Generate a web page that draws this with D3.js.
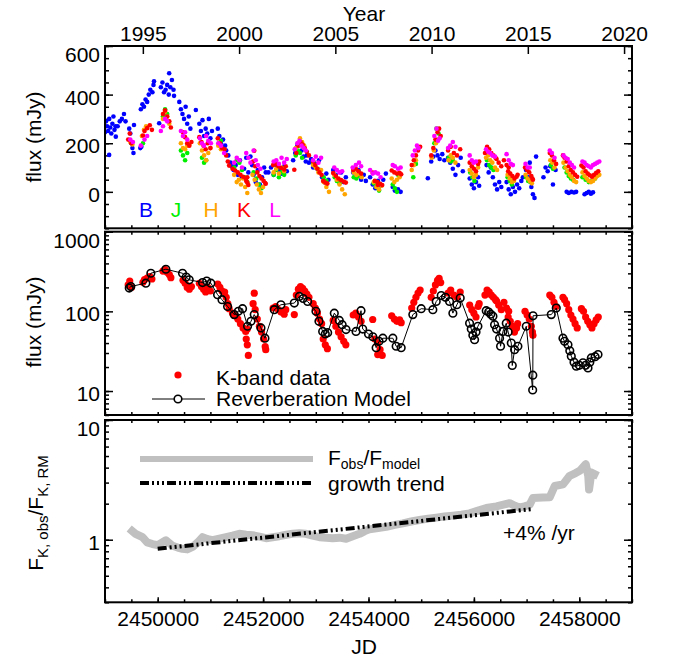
<!DOCTYPE html>
<html>
<head>
<meta charset="utf-8">
<script src="https://cdn.jsdelivr.net/npm/d3@7"></script>
<style>
  body { margin: 0; background: #fff; }
  text { font-family: "Liberation Sans", Arial, sans-serif; fill: #000; }
</style>
</head>
<body>
<svg id="chart" width="673" height="661"></svg>
<script>
// days are counted from JD 2450000
const JD0 = 2450000;

// top panel: photometry per band, [day, flux mJy]
const bandB = [
  [-1020,260],[-1000,245],[-980,290],[-960,270],[-940,250],[-921,152],[-920,300],[-900,265],[-880,240],[-860,280],
  [-840,310],[-820,255],[-800,270],[-795,227],[-760,270],[-720,290],[-680,300],[-640,320],[-610,290],
  [-540,260],[-520,240],[-500,200],[-480,180],[-460,160],[-450,275],[-330,180],[-310,186],
  [-320,340],[-290,360],[-260,350],[-230,380],[-200,370],[-170,400],[-140,420],[-100,410],[-80,440],[-70,455],
  [28,282],[60,430],[90,450],[120,410],[150,420],[180,440],[210,400],[218,488],[240,430],[270,460],[300,420],[310,395],
  [410,370],[440,340],[470,320],[500,300],[530,350],[560,280],[590,310],[620,260],[724,337],
  [790,280],[820,250],[850,295],[880,230],[910,260],[940,240],[970,300],[1000,220],[1030,250],
  [1140,260],[1170,230],[1200,200],[1240,215],[1280,190],[1300,170],[1340,150],[1380,120],[1410,105],
  [1440,90],[1480,110],[1520,70],[1560,130],[1600,60],[1640,95],[1680,140],[1720,80],[1760,145],[1790,110],
  [1820,70],[1860,40],[1900,90],[1940,30],[1980,60],[2020,100],[2050,80],
  [2100,80],[2150,100],[2200,70],[2250,110],[2300,90],[2350,75],[2400,105],[2450,85],
  [2570,130],[2610,160],[2650,190],[2690,200],[2730,170],[2770,145],[2810,125],
  [2830,150],[2870,120],[2910,135],[2950,100],[2990,115],[3030,95],[3060,130],
  [3080,90],[3120,60],[3160,40],[3200,75],[3240,50],
  [3330,90],[3380,70],[3430,50],[3480,80],[3530,40],[3570,60],
  [3710,80],[3760,60],[3810,90],[3860,50],[3910,70],[3950,45],
  [4030,60],[4080,30],[4130,15],[4180,45],[4230,25],[4280,50],[4330,75],
  [4460,20],[4500,5],[4560,10],[4610,0],[5126,56],
  [5190,125],[5230,145],[5270,170],[5310,150],[5350,135],[5400,155],[5440,130],
  [5510,140],[5550,120],[5600,95],[5650,70],[5700,110],[5750,140],[5790,85],
  [5920,55],[5960,30],[6000,15],[6040,40],[6080,60],[6100,25],
  [6240,110],[6280,80],[6320,100],[6360,60],[6400,30],[6440,10],[6480,40],[6520,20],
  [6620,40],[6660,10],[6700,-10],[6740,20],[6780,0],[6820,30],[6860,15],[6900,45],[6930,60],
  [6990,90],[7030,60],[7060,120],[7090,20],[7120,-10],[7150,-25],[7180,145],
  [7320,60],[7360,100],[7400,85],[7450,105],[7500,30],[7550,90],
  [7760,0],[7800,-5],[7850,0],[7900,-3],[7940,0],
  [8100,-10],[8140,-5],[8180,0],[8220,-8],[8260,-2]
];
const bandJ = [
  [-500,200],[-280,200],[100,310],[140,340],[180,320],[440,170],[480,150],[520,130],[560,160],
  [840,140],[880,120],[920,130],[1160,200],[1200,210],
  [1450,100],[1500,130],[1550,120],[1600,90],[1650,60],[1700,40],[1820,80],[1870,55],[1920,30],[1970,15],
  [2200,70],[2250,90],[2300,60],[2350,80],[2400,70],[2620,150],[2660,170],[2700,160],[2740,140],
  [2950,120],[3000,100],[3050,90],[3150,60],[3200,45],[3360,60],[3400,45],[3450,35],
  [3720,60],[3770,55],[3820,65],[4100,35],[4150,20],[4200,5],[4460,30],[4500,15],[4540,0],[4560,70],
  [4850,60],[4900,115],[4950,180],[5250,200],[5290,260],[5330,240],[5520,140],[5560,125],[5600,130],
  [5930,80],[5970,60],[6010,45],[6250,130],[6290,110],[6330,100],[6370,90],[6640,60],[6680,45],[6720,30],
  [6990,60],[7030,45],[7070,40],[7460,110],[7500,95],[7720,100],[7760,80],[7800,65],[7840,55],[7880,50],
  [8060,60],[8120,50],[8180,40],[8240,45],[8300,55]
];
const bandH = [
  [-520,205],[-480,195],[-300,230],[-260,255],[-220,270],[100,300],[140,330],[180,310],[220,280],
  [440,200],[480,180],[520,175],[560,190],[600,195],[800,200],[840,170],[880,150],[920,130],[960,160],[1000,180],
  [1150,190],[1200,175],[1450,70],[1500,40],[1540,50],[1580,30],[1620,55],[1660,20],[1700,-5],
  [1800,70],[1840,50],[1880,30],[1920,10],[1960,-5],[2000,20],
  [2200,80],[2250,95],[2300,75],[2350,100],[2400,85],[2620,180],[2660,200],[2700,220],[2740,205],[2780,190],
  [2950,110],[3000,100],[3050,80],[3100,90],[3150,40],[3200,20],[3250,0],
  [3350,70],[3400,50],[3450,30],[3500,10],[3550,-10],[3720,80],[3770,70],[3820,75],[3870,60],
  [4100,40],[4150,20],[4200,10],[4250,25],[4440,55],[4490,40],[4540,50],[4590,60],
  [4820,90],[4860,110],[4900,130],[5200,140],[5240,170],[5280,200],[5320,215],
  [5520,130],[5560,150],[5600,140],[5650,120],[5920,90],[5960,75],[6000,60],[6040,70],[6080,100],
  [6230,140],[6270,150],[6310,130],[6350,120],[6400,100],[6440,90],[6640,70],[6680,55],[6720,40],[6760,45],
  [6980,70],[7020,55],[7060,45],[7100,35],[7450,130],[7490,120],[7530,100],
  [7700,120],[7740,100],[7780,85],[7820,70],[7860,60],[7900,45],[7940,40],
  [8060,80],[8100,65],[8140,55],[8180,45],[8220,40],[8260,45],[8300,55],[8340,65],[8380,70]
];
const bandK = [
  [-560,215],[-530,240],[-500,200],[-280,232],[-250,250],[-200,262],[-150,274],[-110,255],
  [100,320],[140,335],[180,310],[220,290],[250,265],[480,245],[520,225],[560,200],[600,190],[640,205],
  [790,225],[830,205],[870,190],[910,175],[950,200],[1000,180],[1140,220],[1180,200],[1220,180],
  [1270,175],[1300,150],[1330,125],[1355,108],[1420,95],[1470,88],[1520,80],[1570,70],[1620,62],[1670,56],[1700,60],
  [1680,45],[1700,38],[1720,28],[1832,169],[1810,125],[1850,105],[1890,80],[1930,65],[1970,55],[2010,45],[2040,36],[2050,33],
  [2190,110],[2240,115],[2290,105],[2340,98],[2400,92],[2430,105],[2592,91],
  [2630,160],[2670,190],[2710,205],[2750,195],[2790,180],[2830,165],[2870,150],
  [2950,125],[2990,110],[3030,95],[3070,80],[3110,70],[3140,45],[3180,38],[3220,34],
  [3330,77],[3380,65],[3430,55],[3480,48],[3530,42],[3570,38],[3710,90],[3760,95],[3810,85],[3860,75],
  [4080,79],[4175,28.7],[4120,45],[4170,40],[4220,33],[4260,28],[4440,88],[4490,80],[4540,75],[4590,78],[4620,72],
  [4820,110],[4860,130],[4900,150],[4940,170],[4980,185],[5190,150],[5230,180],[5270,215],[5310,245],[5340,260],[5370,230],
  [5510,170],[5560,185],[5620,160],[5680,150],[5740,175],[5920,120],[5960,105],[6000,95],[6040,85],[6080,115],[6100,125],
  [6210,160],[6250,185],[6290,175],[6330,160],[6370,150],[6410,140],[6430,135],[6470,120],[6520,105],[6570,130],[6620,110],[6660,100],
  [6650,85],[6690,75],[6730,65],[6770,55],[6810,62],[6830,70],[6970,100],[7010,90],[7050,80],[7090,65],[7110,55],[7120,50],
  [7440,160],[7480,150],[7520,130],[7560,115],
  [7690,150],[7720,140],[7760,125],[7800,105],[7840,90],[7880,80],[7920,70],[7960,62],
  [8040,108],[8080,100],[8120,85],[8160,75],[8200,68],[8240,62],[8280,70],[8320,78],[8360,85]
];
const bandL = [
  [-520,215],[-470,205],[-320,190],[-250,215],[-200,230],[60,250],[100,270],[140,300],[180,290],
  [440,250],[480,230],[520,245],[560,215],[800,220],[840,200],[880,190],[920,230],[960,210],[1010,200],
  [1150,200],[1200,190],[1260,160],[1450,120],[1500,140],[1550,130],[1600,100],[1680,160],[1720,140],[1760,120],
  [1820,170],[1860,130],[1900,110],[1950,95],[2200,125],[2250,130],[2300,115],[2350,140],[2400,120],[2450,135],
  [2600,175],[2650,200],[2690,210],[2730,190],[2770,180],[2810,170],[2950,130],[3000,145],[3050,120],[3100,140],
  [3350,100],[3400,90],[3450,80],[3500,85],[3700,100],[3760,110],[3820,120],[3860,105],
  [4030,90],[4080,75],[4130,80],[4180,75],[4230,60],[4460,110],[4500,105],[4560,95],[4610,100],
  [4840,150],[4880,170],[4920,190],[4950,180],[5250,230],[5290,260],[5320,210],[5350,220],
  [5510,180],[5550,190],[5600,205],[5650,185],[5920,150],[5960,130],[6000,120],[6040,125],
  [6230,175],[6270,165],[6310,160],[6350,150],[6400,145],[6620,155],[6660,130],[6700,115],[6740,110],
  [6980,115],[7020,100],[7060,100],[7440,170],[7480,160],[7530,140],
  [7700,150],[7740,140],[7780,135],[7820,120],[7860,110],[7900,100],
  [8060,125],[8100,120],[8140,110],[8180,105],[8220,100],[8260,110],[8300,115],[8340,120],[8380,125]
];

// middle panel: reverberation model for K, [day, flux mJy]
const modelK = [
  [-540,196],[-510,205],[-225,226],[-130,301],[155,338],[471,301],[540,270],[598,249],[851,230],[930,240],[1009,226],
  [1136,162],[1220,140],[1326,115],[1452,91],[1530,100],[1610,108],[1705,65],[1770,75],[1832,91],[1959,62],[2035,46],
  [2212,105],[2338,121],[2592,127],[2687,154],[2760,145],[2845,133],[3003,100],[3060,75],[3130,56],[3180,52],[3225,54],
  [3351,95],[3446,77],[3500,68],[3573,59],[3763,56],[3858,102],[3890,60],[4000,52],[4082,48],[4145,35],[4200,42],[4272,46],
  [4462,46],[4525,36.5],[4620,35],[4841,91],[5000,108],[5221,105],[5285,133],[5380,158],[5460,150],[5538,133],[5601,95],
  [5677,121],[5740,147],[5918,71],[5950,60],[5980,50],[6013,44],[6040,55],[6076,65],[6234,102],[6280,98],[6320,92],
  [6361,87],[6392,68],[6430,60],[6487,46],[6506,36.5],[6551,56],[6614,71],[6650,55],[6709,40],[6728,20.9],[6772,33],
  [6835,36.5],[6994,65],[7115,10.3],[7118,15.8],[7122,88],[7468,91],[7563,110],[7690,46],[7720,42],[7785,38],[7820,32],
  [7848,27.4],[7900,23],[7943,20.5],[8000,21],[8070,22.6],[8120,21],[8165,19.5],[8200,23],[8228,26],[8300,27],[8355,28.7]
];

// bottom panel: observed / model ratio and the growth trend
const ratio = [
  [-541,1.24],[-420,1.12],[-289,1.05],[-200,0.95],[-99,0.92],[0,0.9],[156,0.99],[281,0.89],[380,0.86],[471,0.84],
  [560,0.83],[661,0.87],[760,0.95],[851,1.05],[950,1.01],[1041,0.99],[1170,1.02],[1296,1.05],[1420,1.08],[1548,1.12],
  [1680,1.1],[1801,1.09],[1930,1.06],[2056,1.03],[2180,1.05],[2308,1.07],[2440,1.1],[2561,1.12],[2690,1.13],[2814,1.12],
  [2940,1.08],[3068,1.05],[3200,1.04],[3321,1.03],[3450,1.04],[3575,1.02],[3700,1.07],[3829,1.12],[3930,1.18],[4018,1.22],
  [4180,1.25],[4336,1.28],[4500,1.33],[4652,1.37],[4810,1.42],[4968,1.46],[5130,1.5],[5286,1.53],[5440,1.56],[5601,1.59],
  [5760,1.62],[5918,1.66],[6080,1.75],[6236,1.84],[6426,1.9],[6560,1.96],[6678,2.02],[6780,1.92],[6868,1.86],[6960,1.9],
  [7058,1.96],[7121,2.23],[7300,2.25],[7438,2.26],[7533,2.81],[7691,2.9],[7818,3.42],[7930,3.6],[8008,3.76],[8122,4.28],
  [8170,3.4],[8185,2.63],[8230,3.64],[8356,3.42]
];
const trend = [[0,0.84],[7100,1.80]];

// tick labels
const yearTicks = [1995, 2000, 2005, 2010, 2015, 2020];
const jdTicks = [2450000, 2452000, 2454000, 2456000, 2458000];
const fluxTicks = [0, 200, 400, 600];
const logTicks2 = [10, 100, 1000];
const logTicks3 = [1, 10];

const bands = [
  { name: "B", data: bandB, color: "#0000ff" },
  { name: "J", data: bandJ, color: "#00ee00" },
  { name: "H", data: bandH, color: "#ffa500" },
  { name: "K", data: bandK, color: "#ff0000" },
  { name: "L", data: bandL, color: "#ff00ff" }
];

const svg = d3.select("#chart");
const L = 105, R = 632;
const x = d3.scaleLinear().domain([2449000, 2459000]).range([L, R]);
const jdToYear = jd => 2000 + (jd - 2451544.5) / 365.25;
const xYear = d3.scaleLinear().domain(x.domain().map(jdToYear)).range([L, R]);

const y1 = d3.scaleLinear().domain([-150, 600]).range([228.3, 46]);
const y2 = d3.scaleLog().domain([5, 1000]).range([415, 231.7]);
const y3 = d3.scaleLog().domain([0.3, 10]).range([602.3, 420]);
const px = d => x(JD0 + d[0]);

const jdMinor = d3.range(2449000, 2459001, 500);
const logMinor = (lo, hi) => {
  const out = [];
  for (let p = Math.floor(Math.log10(lo)); p <= Math.log10(hi); p++)
    for (let m = 1; m < 10; m++) {
      const v = m * Math.pow(10, p);
      if (v >= lo && v <= hi) out.push(v);
    }
  return out;
};

function addAxis(axis, tx, ty) {
  const g = svg.append("g").attr("transform", `translate(${tx},${ty})`).call(axis);
  g.select(".domain").remove();
  g.selectAll("line").attr("stroke", "#000").attr("stroke-width", 1.5);
  g.selectAll("text").style("font-size", "21px").style("font-family", "Liberation Sans, Arial, sans-serif");
  return g;
}

function panel(y, major, minor, fmt) {
  const [b, t] = y.range();
  // left / right
  const gl = addAxis(d3.axisLeft(y).tickValues(major).tickSize(-8).tickPadding(5).tickFormat(fmt), L, 0);
  gl.selectAll("text").attr("dy", d => (Math.abs(y(d) - t) < 1 ? "0.75em" : "0.45em"));
  addAxis(d3.axisLeft(y).tickValues(minor).tickSize(-4).tickFormat(""), L, 0);
  addAxis(d3.axisRight(y).tickValues(major).tickSize(-8).tickFormat(""), R, 0);
  addAxis(d3.axisRight(y).tickValues(minor).tickSize(-4).tickFormat(""), R, 0);
  // bottom JD ticks
  addAxis(d3.axisBottom(x).tickValues(jdMinor).tickSize(-3).tickFormat(""), 0, b);
  svg.append("clipPath").attr("id", "clip" + Math.round(t))
    .append("rect").attr("x", L).attr("y", t).attr("width", R - L).attr("height", b - t);
  return "url(#clip" + Math.round(t) + ")";
}

// ---------- top panel ----------
const clip1 = panel(y1, fluxTicks, d3.range(-150, 601, 50), d3.format("d"));
addAxis(d3.axisTop(xYear).tickValues(yearTicks).tickSize(-8).tickPadding(5).tickFormat(d3.format("d")), 0, 46);

const g1 = svg.append("g").attr("clip-path", clip1);
bands.forEach(bd => {
  g1.append("g").selectAll("circle").data(bd.data).enter().append("circle")
    .attr("cx", px).attr("cy", d => y1(d[1])).attr("r", 2.3).attr("fill", bd.color);
});
const bandX = [146, 176, 211, 244, 275];
bands.forEach((bd, i) => {
  svg.append("text").attr("x", bandX[i]).attr("y", 217).attr("text-anchor", "middle")
    .style("font-size", "21px").style("fill", bd.color).text(bd.name);
});

// ---------- middle panel ----------
const clip2 = panel(y2, logTicks2, logMinor(5, 1000), d3.format("d"));
addAxis(d3.axisTop(x).tickValues(jdMinor).tickSize(-3).tickFormat(""), 0, 231.7);
const g2 = svg.append("g").attr("clip-path", clip2);
g2.append("g").selectAll("circle").data(bandK).enter().append("circle")
  .attr("cx", px).attr("cy", d => y2(d[1])).attr("r", 3.6).attr("fill", "#ff0000");
g2.append("path").datum(modelK)
  .attr("d", d3.line().x(px).y(d => y2(d[1])))
  .attr("fill", "none").attr("stroke", "#000").attr("stroke-width", 1);
g2.append("g").selectAll("circle").data(modelK).enter().append("circle")
  .attr("cx", px).attr("cy", d => y2(d[1])).attr("r", 3.8)
  .attr("fill", "none").attr("stroke", "#000").attr("stroke-width", 1.6);

// legend
svg.append("circle").attr("cx", 178).attr("cy", 375).attr("r", 3.6).attr("fill", "#ff0000");
svg.append("text").attr("x", 216).attr("y", 385).style("font-size", "21px").text("K-band data");
svg.append("line").attr("x1", 152).attr("x2", 205).attr("y1", 399).attr("y2", 399).attr("stroke", "#000");
svg.append("circle").attr("cx", 178).attr("cy", 399).attr("r", 3.8).attr("fill", "#fff")
  .attr("stroke", "#000").attr("stroke-width", 1.6);
svg.append("text").attr("x", 216).attr("y", 406).style("font-size", "21px").text("Reverberation Model");

// ---------- bottom panel ----------
const clip3 = panel(y3, logTicks3, logMinor(0.3, 10), d3.format("d"));
addAxis(d3.axisTop(x).tickValues(jdMinor).tickSize(-3).tickFormat(""), 0, 420);
addAxis(d3.axisBottom(x).tickValues(jdTicks).tickSize(-5).tickPadding(9).tickFormat(d3.format("d")), 0, 602.3);

const g3 = svg.append("g").attr("clip-path", clip3);
g3.append("path").datum(ratio)
  .attr("d", d3.line().x(px).y(d => y3(d[1])))
  .attr("fill", "none").attr("stroke", "#c0c0c0").attr("stroke-width", 8).attr("stroke-linejoin", "round");
g3.append("path").datum(trend)
  .attr("d", d3.line().x(px).y(d => y3(d[1])))
  .attr("fill", "none").attr("stroke", "#000").attr("stroke-width", 4)
  .attr("stroke-dasharray", "9,3,2,3,2,3,2,3");

svg.append("line").attr("x1", 140).attr("x2", 313).attr("y1", 459).attr("y2", 459)
  .attr("stroke", "#c0c0c0").attr("stroke-width", 6);
svg.append("line").attr("x1", 140).attr("x2", 313).attr("y1", 483).attr("y2", 483)
  .attr("stroke", "#000").attr("stroke-width", 4).attr("stroke-dasharray", "9,3,2,3,2,3,2,3");
const t1 = svg.append("text").attr("x", 328).attr("y", 465).style("font-size", "21px");
t1.append("tspan").text("F");
t1.append("tspan").attr("dy", 4).style("font-size", "14px").text("obs");
t1.append("tspan").attr("dy", -4).text("/F");
t1.append("tspan").attr("dy", 4).style("font-size", "14px").text("model");
svg.append("text").attr("x", 328).attr("y", 491).style("font-size", "21px").text("growth trend");
svg.append("text").attr("x", 503).attr("y", 540).style("font-size", "21px").text("+4% /yr");

// frames
[[46, 228.3], [231.7, 415], [420, 602.3]].forEach(([t, b]) => {
  svg.append("rect").attr("x", L).attr("y", t).attr("width", R - L).attr("height", b - t)
    .attr("fill", "none").attr("stroke", "#000").attr("stroke-width", 2);
});

// axis titles
svg.append("text").attr("x", 364).attr("y", 21).attr("text-anchor", "middle").style("font-size", "21px").text("Year");
svg.append("text").attr("x", 364).attr("y", 654).attr("text-anchor", "middle").style("font-size", "21px").text("JD");
svg.append("text").attr("transform", "translate(41,137) rotate(-90)").attr("text-anchor", "middle")
  .style("font-size", "21px").text("flux (mJy)");
svg.append("text").attr("transform", "translate(41,322) rotate(-90)").attr("text-anchor", "middle")
  .style("font-size", "21px").text("flux (mJy)");
const yl = svg.append("text").attr("transform", "translate(43,513) rotate(-90)").attr("text-anchor", "middle")
  .style("font-size", "21px");
yl.append("tspan").text("F");
yl.append("tspan").attr("dy", 5).style("font-size", "15px").text("K, obs");
yl.append("tspan").attr("dy", -5).text("/F");
yl.append("tspan").attr("dy", 5).style("font-size", "15px").text("K, RM");
</script>
</body>
</html>
